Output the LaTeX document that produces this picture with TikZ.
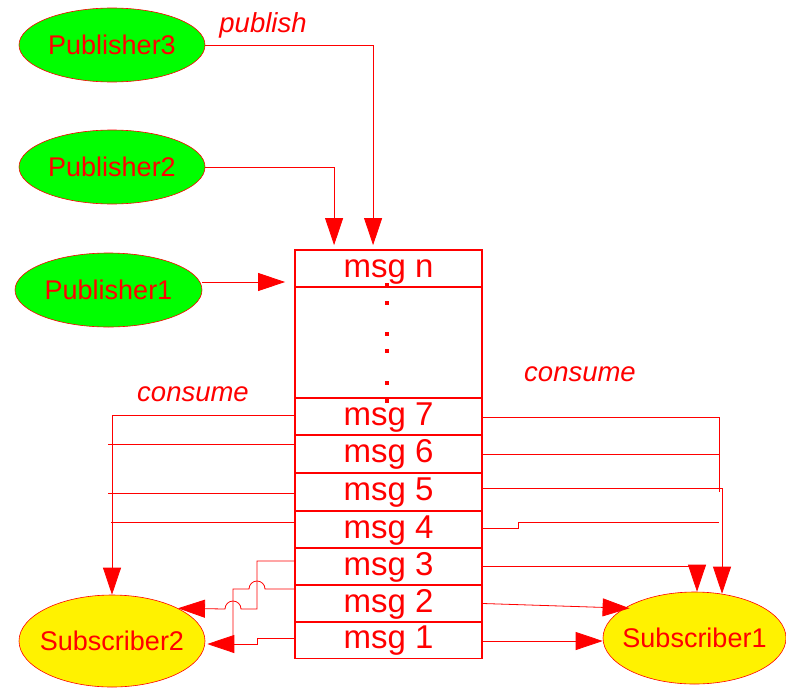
\documentclass[tikz,border=0pt]{standalone}
\usepackage{fontspec}
\setmainfont{Liberation Sans}
\usetikzlibrary{shapes.geometric,arrows.meta}
\begin{document}
\begin{tikzpicture}[x=1pt,y=-1pt,
  pub/.style={ellipse,draw=red,line width=0.6pt,fill=green,text=red,inner sep=0pt,inner xsep=-12pt,
    minimum width=186pt,minimum height=74pt,font=\fontsize{27}{27}\selectfont},
  sub/.style={pub,fill=yellow,minimum height=92pt},
  row/.style={rectangle,draw=red,line width=1.8pt,minimum width=187pt,minimum height=37pt,
    inner sep=0pt,text=red,font=\fontsize{33}{33}\selectfont,text height=24pt,text depth=7pt},
  wire/.style={draw=red,line width=0.8pt},
  arr/.style={wire,-{Triangle[length=27pt,width=18pt]}},
  lbl/.style={text=red,font=\fontsize{27.5}{27.5}\selectfont\itshape,inner sep=0pt},
  qdot/.style={fill=red,minimum size=4pt,inner sep=0pt}
]
\useasboundingbox (0,0) rectangle (786,688);

% publishers and subscribers
\node[pub] (P3) at (112,45) {Publisher3};
\node[pub] (P2) at (112,167) {Publisher2};
\node[pub,minimum width=187pt] (P1) at (108.5,290) {Publisher1};
\node[sub] (S2) at (112,641) {Subscriber2};
\node[sub,minimum width=183pt] (S1) at (694.5,638) {Subscriber1};

% queue
\node[row] (mn) at (388.5,268.5) {msg n};
\node[row,minimum height=111pt] (gap) at (388.5,342.5) {};
\node[row] (m7) at (388.5,416.5) {msg 7};
\node[row] (m6) at (388.5,454) {msg 6};
\node[row] (m5) at (388.5,492) {msg 5};
\node[row] (m4) at (388.5,529.5) {msg 4};
\node[row] (m3) at (388.5,566.5) {msg 3};
\node[row] (m2) at (388.5,603.5) {msg 2};
\node[row] (m1) at (388.5,640) {msg 1};
\foreach \y in {285,303,334,351,383,401} \node[qdot] (d\y) at (387,\y) {};

% labels
\node[lbl] (lp) at (263,25) {publish};
\node[lbl] (lc1) at (193,394) {consume};
\node[lbl] (lc2) at (580,374) {consume};

% publish
\draw[arr] (P3.east) -| ([xshift=79pt,yshift=4pt]mn.north west);
\draw[arr] (P2.east) -| ([xshift=40pt,yshift=4pt]mn.north west);
\draw[arr] ([yshift=8pt]P1.east) -- ([xshift=-9pt,yshift=-13.5pt]mn.west);

% consume, left
\draw[arr] ([yshift=1.5pt]m7.west) -| (S2.north);
\draw[wire] ([yshift=10pt]m6.west) -- ++(-186,0);
\draw[wire] ([yshift=-1pt]m5.west) -- ++(-186,0);
\draw[wire] ([yshift=7.5pt]m4.west) -- ++(-183,0);
\draw[arr] ([yshift=5.5pt]m3.west) -| (257,609) -- (241,609)
  arc[start angle=0,end angle=180,radius=8pt] -- (S2.north east);
\draw[wire] ([yshift=14.5pt]m2.west) -- (265,589)
  arc[start angle=0,end angle=180,radius=8pt] -- (233,589) -- (233,644);
\draw[arr] ([yshift=2pt]m1.west) -| (257,644) -- ([xshift=2pt,yshift=-3pt]S2.east);

% consume, right
\draw[wire] ([yshift=-0.5pt]m7.east) -| (719,492);
\draw[wire] (m6.east) -- (719,454);
\draw[arr] ([yshift=4pt]m5.east) -| ([xshift=27.5pt,yshift=-2pt]S1.north);
\draw[wire] ([yshift=1.5pt]m4.east) -- (518,528) -- (518,522) -- (719,522);
\draw[arr] ([yshift=0.5pt]m3.east) -| ([xshift=2.5pt]S1.north);
\draw[arr] (m2.east) -- ([yshift=-3pt]S1.north west);
\draw[arr] ([yshift=-1pt]m1.east) -- ([yshift=-3pt]S1.west);
\end{tikzpicture}
\end{document}
